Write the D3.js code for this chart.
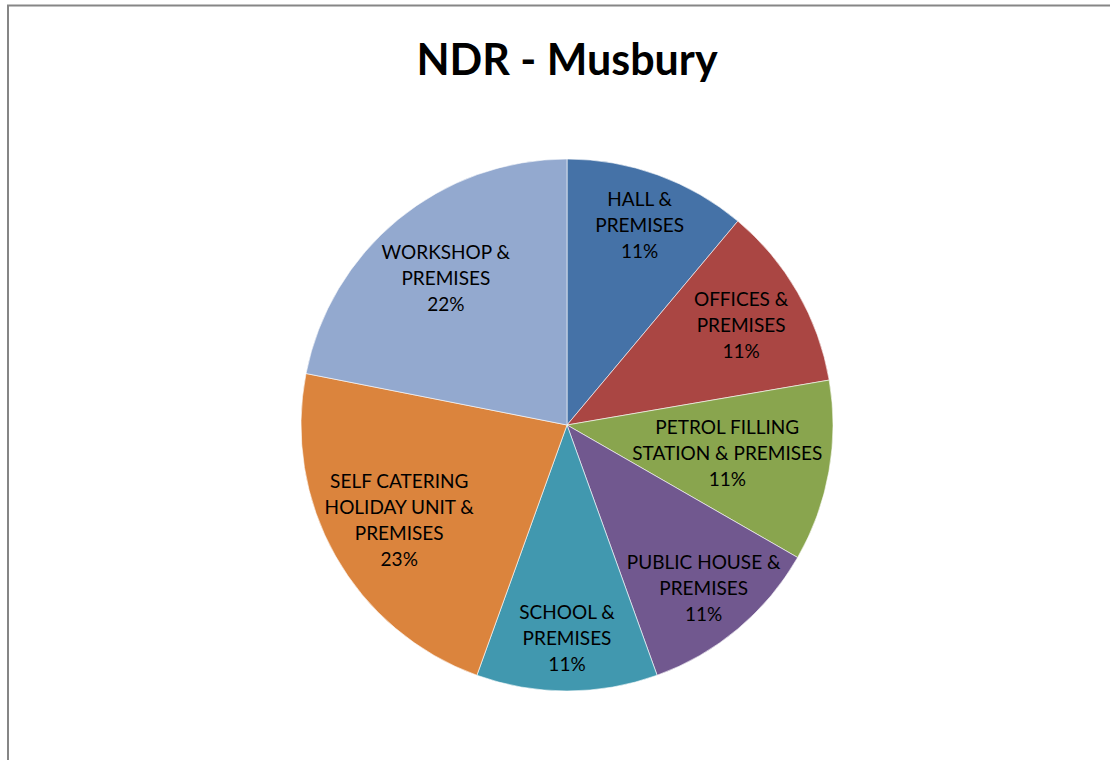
<!DOCTYPE html>
<html lang="en">
<head>
    <meta charset="UTF-8">
    <title>NDR - Musbury</title>
    <script src="https://d3js.org/d3.v7.min.js"></script>
    <style>
        * { margin: 0; padding: 0; box-sizing: border-box; }
        body { background: #fff; font-family: Lato, "Open Sans", sans-serif; overflow: hidden; }
        svg { display: block; }
    </style>
</head>
<body>
    <div id="chart"></div>
    <script>
        // data (clockwise from 12 o'clock)
        const categories = [
            "HALL & PREMISES",
            "OFFICES & PREMISES",
            "PETROL FILLING STATION & PREMISES",
            "PUBLIC HOUSE & PREMISES",
            "SCHOOL & PREMISES",
            "SELF CATERING HOLIDAY UNIT & PREMISES",
            "WORKSHOP & PREMISES"
        ];
        const labelLines = [
            ["HALL &", "PREMISES"],
            ["OFFICES &", "PREMISES"],
            ["PETROL FILLING", "STATION & PREMISES"],
            ["PUBLIC HOUSE &", "PREMISES"],
            ["SCHOOL &", "PREMISES"],
            ["SELF CATERING", "HOLIDAY UNIT &", "PREMISES"],
            ["WORKSHOP &", "PREMISES"]
        ];
        const values = [11.1, 11.2, 11.0, 11.2, 11.0, 22.6, 21.9];
        const colors = ["#4572a7", "#aa4643", "#89a54e", "#71588f", "#4198af", "#db843d", "#93a9cf"];

        const width = 1110, height = 760;
        const cx = 567, cy = 425, radius = 266;

        const svg = d3.select("#chart")
            .append("svg")
            .attr("width", width)
            .attr("height", height);

        // chart area border (only left and top show in the frame)
        svg.append("rect")
            .attr("x", 8)
            .attr("y", 5.5)
            .attr("width", 1200)
            .attr("height", 800)
            .attr("fill", "none")
            .attr("stroke", "#868686")
            .attr("stroke-width", 2);

        svg.append("text")
            .attr("x", cx)
            .attr("y", 75)
            .attr("text-anchor", "middle")
            .style("font-size", "43px")
            .style("font-weight", "bold")
            .style("fill", "#000")
            .text("NDR - Musbury");

        const data = categories.map((c, i) => ({ name: c, value: values[i], lines: labelLines[i] }));
        const total = d3.sum(values);

        const color = d3.scaleOrdinal().domain(categories).range(colors);

        const pie = d3.pie().sort(null).value(d => d.value);
        const arc = d3.arc().innerRadius(0).outerRadius(radius);

        const g = svg.append("g").attr("transform", `translate(${cx},${cy})`);

        const arcs = pie(data);

        g.selectAll("path")
            .data(arcs)
            .join("path")
            .attr("d", arc)
            .attr("fill", d => color(d.data.name))
            .attr("stroke", "#fff")
            .attr("stroke-width", 0.6);

        const lineH = 26;
        const fmt = v => Math.round(v / total * 100) + "%";

        const labels = g.selectAll(".lbl")
            .data(arcs)
            .join("text")
            .attr("class", "lbl")
            .attr("text-anchor", "middle")
            .style("font-size", "19px")
            .style("fill", "#000");

        labels.each(function(d) {
            const t = d3.select(this);
            const rows = d.data.lines.concat([fmt(d.data.value)]);
            const lines = [];
            rows.forEach((r, i) => {
                const y = (i - (rows.length - 1) / 2) * lineH + 7;
                const sp = t.append("tspan")
                    .attr("x", 0)
                    .attr("y", y)
                    .text(r);
                lines.push({ y: y, w: sp.node().getComputedTextLength() });
            });
            // start near the rim, pull in until every line fits inside the pie
            const mid = (d.startAngle + d.endAngle) / 2;
            const fits = rr => {
                const x = Math.sin(mid) * rr, y = -Math.cos(mid) * rr;
                return lines.every(l => [x - l.w / 2, x + l.w / 2].every(px =>
                    [y + l.y - 14, y + l.y + 2].every(py => Math.hypot(px, py) <= radius - 6)));
            };
            let r = radius * 0.8;
            while (r > 0 && !fits(r)) r -= 2;
            t.attr("transform", `translate(${Math.sin(mid) * r},${-Math.cos(mid) * r})`);
        });
    </script>
</body>
</html>
